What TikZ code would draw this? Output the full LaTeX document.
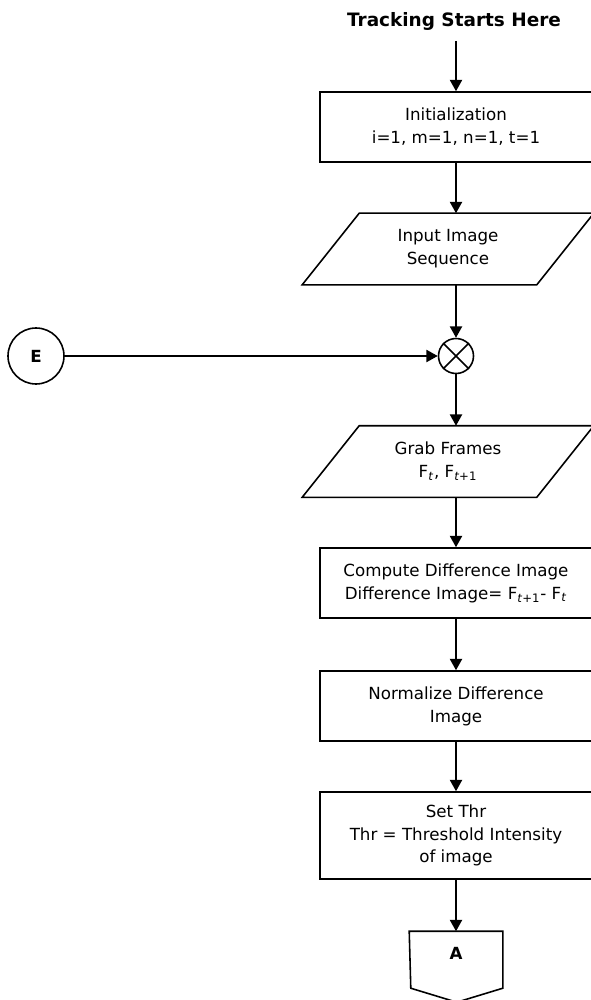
\documentclass[tikz,border=0pt]{standalone}
\usepackage{fontspec}
\setmainfont{DejaVu Sans}
\usetikzlibrary{arrows.meta}
\newlength\pxu
\setlength\pxu{0.02cm}
\begin{document}
\begin{tikzpicture}[x=0.02cm,y=-0.02cm,
  line width=0.9pt,
  font=\fontsize{9.5}{13}\selectfont,
  arr/.style={-{Triangle[length=6.5pt,width=7pt]}},
  stepbox/.style={draw, rectangle, minimum width=272\pxu, align=center, inner sep=0pt},
  iobox/.style={rectangle, minimum width=233\pxu, minimum height=70\pxu, align=center, inner sep=0pt},
  conn/.style={circle, draw, inner sep=0pt, font=\bfseries\fontsize{9.5}{12}\selectfont}]
\useasboundingbox (0,0) rectangle (591,1000);
\clip (0,0) rectangle (591,1000);

% start label
\node[font=\bfseries\fontsize{10.5}{12}\selectfont, inner sep=0pt] (title) at (454,21) {Tracking Starts Here};

% process steps
\node[stepbox, minimum height=70\pxu] (init) at (456,127) {Initialization\\i=1, m=1, n=1, t=1};
\node[iobox] (inp) at (448,249) {Input Image\\Sequence};
\node[conn, minimum size=35\pxu] (mix) at (456,356) {};
\node[conn, minimum size=56\pxu] (E) at (36,356) {E};
\node[iobox] (grab) at (448,461.5) {Grab Frames\\F\textsubscript{\textit{t}}, F\textsubscript{\textit{t}+1}};
\node[stepbox, minimum height=70\pxu] (diff) at (456,583) {Compute Difference Image\\Difference Image= F\textsubscript{\textit{t}+1}- F\textsubscript{\textit{t}}};
\node[stepbox, minimum height=70\pxu] (norm) at (456,706) {Normalize Difference\\Image};
\node[stepbox, minimum height=87\pxu] (thr) at (456,835.5) {Set Thr\\Thr = Threshold Intensity\\of image};
\node[minimum width=92\pxu, minimum height=42\pxu, inner sep=0pt, font=\bfseries\fontsize{9.5}{12}\selectfont] (offA) at (456,953) {A};

% input/output parallelograms
\foreach \n in {inp,grab}
  \draw ([xshift=-28.5\pxu]\n.south west) -- ([xshift=-28.5\pxu]\n.south east)
     -- ([xshift=28.5\pxu]\n.north east) -- ([xshift=28.5\pxu]\n.north west) -- cycle;

% summing junction cross
\draw (mix.north west) -- (mix.south east) (mix.north east) -- (mix.south west);

% off-page connector
\draw (offA.north west) -- (offA.north east) -- ++(0,57) -- ++(-46,14) -- ++(-46,-14) -- cycle;

% connectors
\draw[arr] ([yshift=-10\pxu]title.south -| init.north) -- (init.north);
\draw[arr] (init.south) -- (init.south |- inp.north);
\draw[arr] (init.south |- inp.south) -- (mix.north);
\draw[arr] (E.east) -- (mix.west);
\draw[arr] (mix.south) -- (mix.south |- grab.north);
\draw[arr] (mix.south |- grab.south) -- (diff.north);
\draw[arr] (diff.south) -- (norm.north);
\draw[arr] (norm.south) -- (thr.north);
\draw[arr] (thr.south) -- (offA.north);
\end{tikzpicture}
\end{document}
